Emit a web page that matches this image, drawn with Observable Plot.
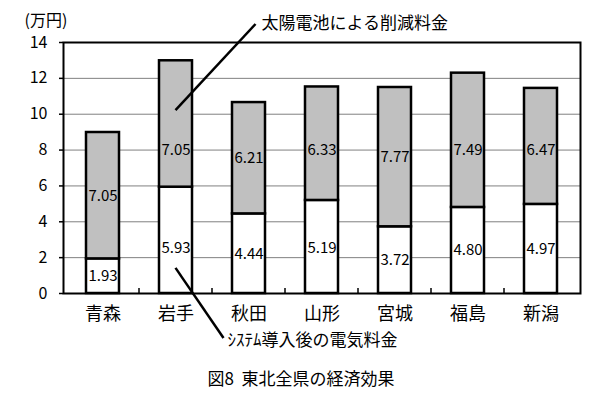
<!DOCTYPE html>
<html>
<head>
<meta charset="utf-8">
<script src="https://cdn.jsdelivr.net/npm/d3@7"></script>
<script src="https://cdn.jsdelivr.net/npm/@observablehq/plot@0.6"></script>
<style>
  html, body { margin: 0; padding: 0; background: #fff; }
  #chart svg { display: block; }
</style>
</head>
<body>
<div id="chart"></div>
<script>
const categories = ["青森", "岩手", "秋田", "山形", "宮城", "福島", "新潟"];
const afterCost = [1.93, 5.93, 4.44, 5.19, 3.72, 4.80, 4.97];   // システム導入後の電気料金
const reduction = [7.05, 7.05, 6.21, 6.33, 7.77, 7.49, 6.47];   // 太陽電池による削減料金
const seriesNames = ["システム導入後の電気料金", "太陽電池による削減料金"];
const yTicks = [0, 2, 4, 6, 8, 10, 12, 14];
const unitLabel = "(万円)";
const captionText = "図8  東北全県の経済効果";
const topNote = "太陽電池による削減料金";
const bottomNote = "ｼｽﾃﾑ導入後の電気料金";

const rows = [];
categories.forEach((c, i) => {
  rows.push({cat: c, series: seriesNames[0], value: afterCost[i],
             labelY: Math.min(2.5, afterCost[i] / 2)});
  rows.push({cat: c, series: seriesNames[1], value: reduction[i],
             labelY: Math.min(8, afterCost[i] + reduction[i] / 2)});
});

const font = "'Noto Sans CJK JP', 'Noto Sans', sans-serif";

const plot = Plot.plot({
  width: 609,
  height: 396,
  marginTop: 42,
  marginBottom: 103,
  marginLeft: 63,
  marginRight: 29,
  style: {fontFamily: font, background: "#fff", color: "#000"},
  x: {domain: categories, paddingInner: 0.55, paddingOuter: 0.275, label: null},
  y: {domain: [0, 14], label: null},
  color: {domain: seriesNames, range: ["#ffffff", "#c0c0c0"]},
  marks: [
    Plot.gridY(yTicks.filter(t => t > 0 && t < 14), {stroke: "#808080", strokeOpacity: 1, strokeWidth: 1}),
    Plot.barY(rows, Plot.stackY({x: "cat", y: "value", fill: "series", stroke: "#000", strokeWidth: 2.5})),
    Plot.text(rows, {x: "cat", y: "labelY", text: d => d.value.toFixed(2), fontSize: 15, fill: "#000"}),
    Plot.frame({stroke: "#000", strokeWidth: 2}),
    Plot.axisY({ticks: yTicks, tickSize: 4, tickPadding: 12, fontSize: 16, stroke: "#000", strokeWidth: 1.5}),
    Plot.axisX({tickSize: 0, tickPadding: 14, fontSize: 18}),
    Plot.text([unitLabel], {frameAnchor: "top-left", text: d => d, dx: -39, dy: -22, textAnchor: "start", lineAnchor: "middle", fontSize: 16}),
    Plot.text([captionText], {frameAnchor: "bottom", text: d => d, dx: -21, dy: 86, lineAnchor: "middle", fontSize: 17})
  ]
});

// annotation overlay (leader lines, notes, category-boundary ticks)
const sx = plot.scale("x"), sy = plot.scale("y");
const center = c => sx.apply(c) + sx.bandwidth / 2;
const svg = d3.select(plot);
const g = svg.append("g").attr("font-family", font).attr("text-anchor", "start");
const y0 = sy.apply(0);
for (let i = 1; i < categories.length; i++) {
  const bx = (center(categories[i - 1]) + center(categories[i])) / 2;
  g.append("line").attr("x1", bx).attr("x2", bx).attr("y1", y0).attr("y2", y0 - 5)
    .attr("stroke", "#000").attr("stroke-width", 1.5);
}
const ix = center("岩手");
// top note
const t1 = [ix, sy.apply(10.2)];
const t2 = [ix + 80, 24];
g.append("line").attr("x1", t1[0]).attr("y1", t1[1]).attr("x2", t2[0]).attr("y2", t2[1])
  .attr("stroke", "#000").attr("stroke-width", 2.5);
g.append("text").attr("x", t2[0] + 6).attr("y", 23).attr("dy", "0.35em")
  .attr("text-anchor", "start").attr("font-size", 17).text(topNote);
// bottom note
const b1 = [ix, sy.apply(1.4)];
const b2 = [ix + 48, 338];
g.append("line").attr("x1", b1[0]).attr("y1", b1[1]).attr("x2", b2[0]).attr("y2", b2[1])
  .attr("stroke", "#000").attr("stroke-width", 2.5);
g.append("text").attr("x", b2[0] + 4).attr("y", 340).attr("dy", "0.35em")
  .attr("text-anchor", "start").attr("font-size", 17).text(bottomNote);

document.getElementById("chart").appendChild(plot);
</script>
</body>
</html>
